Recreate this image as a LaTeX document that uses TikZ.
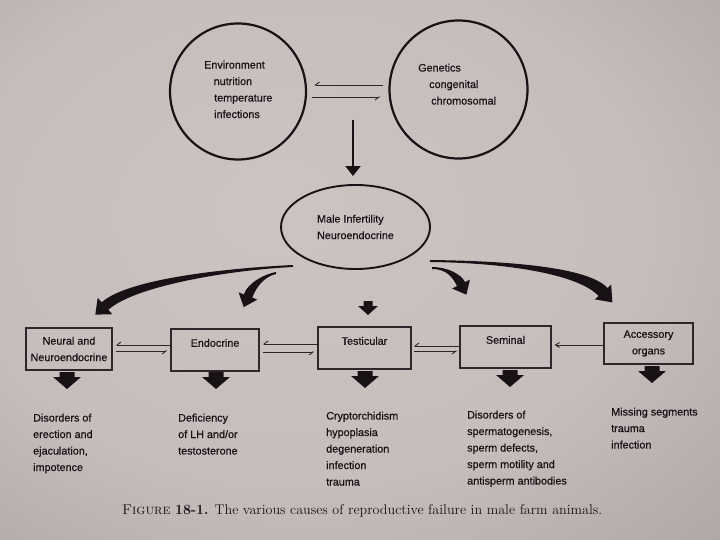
\documentclass[tikz,border=0pt]{standalone}
\usepackage{fontspec}
\usepackage{graphicx}
\newfontfamily\arialf[FakeBold=0.6]{Liberation Sans}
\usetikzlibrary{arrows.meta,shapes.geometric,calc}
\definecolor{ink}{RGB}{24,18,22}
\definecolor{boxink}{RGB}{45,38,42}
\pgfdeclareradialshading{vig}{\pgfpoint{-6bp}{6bp}}{rgb(0bp)=(0.80,0.765,0.76); rgb(24bp)=(0.775,0.74,0.735); rgb(42bp)=(0.68,0.64,0.64); rgb(55bp)=(0.53,0.495,0.505); rgb(71bp)=(0.30,0.27,0.29)}
\newcommand\taperarrow[8]{%
  \coordinate (tP0) at #1; \coordinate (tC1) at #2; \coordinate (tC2) at #3; \coordinate (tP3) at #4;
  \coordinate (ta0) at ($(tP0)!#5!90:(tC1)$);
  \coordinate (tb0) at ($(tP0)!#5!-90:(tC1)$);
  \coordinate (ta1) at ($(tP3)!#6!-90:(tC2)$);
  \coordinate (tb1) at ($(tP3)!#6!90:(tC2)$);
  \coordinate (tca1) at ($(tC1)+(ta0)-(tP0)$);
  \coordinate (tcb1) at ($(tC1)+(tb0)-(tP0)$);
  \coordinate (tca2) at ($(tC2)+(ta1)-(tP3)$);
  \coordinate (tcb2) at ($(tC2)+(tb1)-(tP3)$);
  \coordinate (tha) at ($(tP3)!#7!-90:(tC2)$);
  \coordinate (thb) at ($(tP3)!#7!90:(tC2)$);
  \coordinate (ttip) at ($(tP3)!#8!180:(tC2)$);
  \fill[ink] (ta0) .. controls (tca1) and (tca2) .. (ta1) -- (tha) -- (ttip) -- (thb) -- (tb1) .. controls (tcb2) and (tcb1) .. (tb0) -- cycle;
}
\tikzset{
  lab/.style={font=\arialf\fontsize{10.8}{16.5}\selectfont, text=ink, inner sep=0pt},
  circ/.style={circle, draw=ink, line width=2.2pt, inner sep=0pt},
  boxn/.style={rectangle, draw=boxink, line width=1.3pt, inner sep=0pt, lab, align=center},
  one/.style={text height=8pt, text depth=14.5pt},
  harp/.style={draw=boxink, line width=0.9pt, -{Straight Barb[harpoon,swap,length=4pt,width=6pt]}},
  sarrow/.style={draw=boxink, line width=0.9pt, -{Straight Barb[length=4pt,width=5pt]}},
  bigdown/.pic={\fill[ink] (-7.5,0) -- (7.5,0) -- (7.5,5) -- (14,5) -- (0,17) -- (-14,5) -- (-7.5,5) -- cycle;},
  smalldown/.pic={\fill[ink] (-4.5,0) -- (4.5,0) -- (4.5,5) -- (10,5) -- (0,14) -- (-10,5) -- (-4.5,5) -- cycle;}
}
\begin{document}
\begin{tikzpicture}[x=1pt,y=-1pt]
\useasboundingbox (0,0) rectangle (720,540);
\shade[shading=vig] (0,0) rectangle (720,540);

% top circles
\node[circ, minimum size=136pt] (env) at (238,91.5) {};
\node[circ, minimum size=138pt] (gen) at (458.5,89.5) {};
\node[lab, align=left, anchor=north west] (envt) at (204,60.5)
  {Environment\\\hspace*{9.5pt}nutrition\\\hspace*{10pt}temperature\\\hspace*{10pt}infections};
\node[lab, align=left, anchor=north west] (gent) at (418,63.5)
  {Genetics\\\hspace*{11pt}congenital\\\hspace*{13pt}chromosomal};
\draw[harp, shorten <=5pt, shorten >=7pt] (gen.west |- 0,85) -- (env.east |- 0,85);
\draw[harp, shorten <=5pt, shorten >=8pt] (env.east |- 0,97) -- (gen.west |- 0,97);

% ellipse
\node[ellipse, draw=ink, line width=1.9pt, minimum width=149pt, minimum height=84pt, lab, align=left] (mi) at (355.5,227) {Male Infertility\\Neuroendocrine};
\coordinate (gstart) at (353,120);
\draw[ink, line width=2.2pt, -{Triangle[length=10pt,width=15pt]}, shorten >=8pt] (gstart) -- (gstart |- mi.north);

% boxes
\node[boxn, minimum width=86pt, minimum height=42pt] (neural) at (69,349) {Neural and\\Neuroendocrine};
\node[boxn, one, minimum width=88pt, minimum height=42pt] (endo) at (215,350) {Endocrine};
\node[boxn, one, minimum width=93pt, minimum height=42pt] (test) at (364.5,348) {Testicular};
\node[boxn, one, minimum width=91pt, minimum height=42pt] (sem) at (505.5,347) {Seminal};
\node[boxn, minimum width=89pt, minimum height=41pt] (acc) at (648.5,343.5) {Accessory\\organs};

% curved arrows from ellipse
\taperarrow{(293,266)}{(230,269)}{(132,282)}{(105,306)}{1pt}{5pt}{11pt}{13pt}
\taperarrow{(276,273)}{(266,275)}{(253,283)}{(248,296)}{1pt}{4.5pt}{10pt}{12pt}
\taperarrow{(432,268)}{(447,268)}{(457,276)}{(461,284)}{1pt}{4.5pt}{10pt}{12pt}
\taperarrow{(430,261)}{(515,262)}{(585,272)}{(603,292)}{1pt}{6pt}{11pt}{14pt}
\pic at (368,301) {smalldown};

% horizontal arrows
\draw[harp, shorten >=3pt] (endo.west |- 0,345) -- (neural.east |- 0,345);
\draw[harp, shorten <=3pt, shorten >=3pt] (neural.east |- 0,351) -- (endo.west |- 0,351);
\draw[harp, shorten >=3pt] (test.west |- 0,344) -- (endo.east |- 0,344);
\draw[harp, shorten <=3pt, shorten >=3pt] (endo.east |- 0,352) -- (test.west |- 0,352);
\draw[harp, shorten >=2pt] (sem.west |- 0,346) -- (test.east |- 0,346);
\draw[harp, shorten <=2pt, shorten >=2pt] (test.east |- 0,351) -- (sem.west |- 0,351);
\draw[sarrow, shorten >=3pt] (acc.west |- 0,345) -- (sem.east |- 0,345);

% down arrows
\pic at (67,372) {bigdown};
\pic at (216,372) {bigdown};
\pic at (365,371) {bigdown};
\pic at (510,370) {bigdown};
\pic at (652,366) {bigdown};

% results
\node[lab, align=left, anchor=north west] (r1) at (33,413.5) {Disorders of\\erection and\\ejaculation,\\impotence};
\node[lab, align=left, anchor=north west] (r2) at (178,413.5) {Deficiency\\of LH and/or\\testosterone};
\node[lab, align=left, anchor=north west] (r3) at (326,411.5) {Cryptorchidism\\hypoplasia\\degeneration\\infection\\trauma};
\node[lab, align=left, anchor=north west] (r4) at (467,410.5) {Disorders of\\spermatogenesis,\\sperm defects,\\sperm motility and\\antisperm antibodies};
\node[lab, align=left, anchor=north west] (r5) at (611,407.5) {Missing segments\\trauma\\infection};

% caption
\node[anchor=west, inner sep=0pt, text=ink] (cap) at (122,511) {\resizebox{480pt}{!}{\fontsize{13}{15}\selectfont\addfontfeature{FakeBold=0.3}\textsc{Figure} \textbf{18-1.} The various causes of reproductive failure in male farm animals.}};
\end{tikzpicture}
\end{document}
